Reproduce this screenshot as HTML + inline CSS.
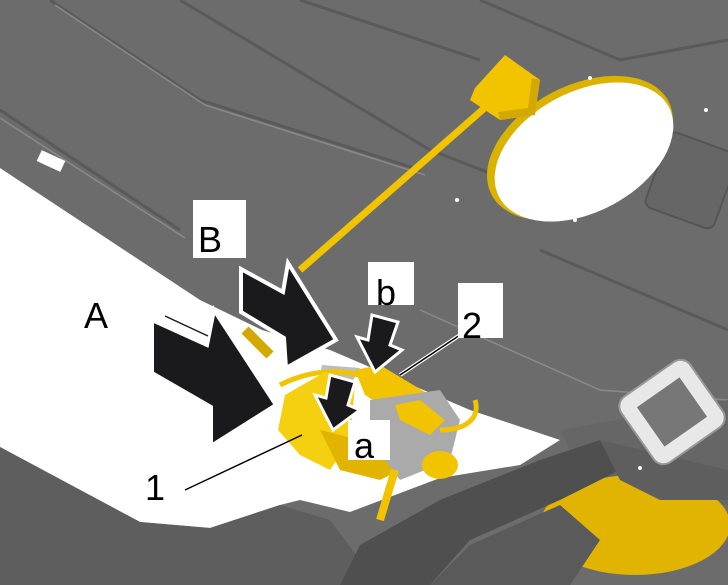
<!DOCTYPE html>
<html><head><meta charset="utf-8"><style>
html,body{margin:0;padding:0;background:#fff;width:728px;height:585px;overflow:hidden}
svg{display:block}
text{font-family:"Liberation Sans",sans-serif;fill:#000}
</style></head><body>
<svg width="728" height="585" viewBox="0 0 728 585" xmlns="http://www.w3.org/2000/svg">
<rect width="728" height="585" fill="#6c6c6c"/>
<g stroke="#5a5a5a" stroke-width="3" fill="none">
<path d="M0,110 L180,230"/>
<path d="M50,0 L200,100 L420,170"/>
<path d="M180,0 L430,150 L560,200"/>
<path d="M300,0 L480,60"/>
<path d="M480,0 L620,60 L728,40"/>
<path d="M540,250 L728,330"/>
</g>
<g stroke="#8a8a8a" stroke-width="1.5" fill="none">
<path d="M55,5 L205,105 L425,175"/>
<path d="M0,118 L185,238"/>
<path d="M420,310 L600,390 L728,400"/>
</g>
<rect x="655" y="140" width="73" height="80" rx="8" fill="#666" stroke="#555" stroke-width="2" transform="rotate(20 690 180)"/>
<polygon fill="#fff" points="0,168 200,300 262,330 330,350 400,380 470,410 560,440 520,465 440,478 395,495 350,512 300,500 280,505 210,528 140,522 0,447"/>
<polygon fill="#bdbdbd" points="322,365 360,368 345,395 318,385"/>
<polygon fill="#5e5e5e" points="0,447 140,522 210,528 280,505 330,520 360,560 380,585 0,585"/>
<polygon fill="#666" points="560,430 728,400 728,505 640,500 580,470"/>
<ellipse cx="635" cy="525" rx="95" ry="50" fill="#e0b400"/>
<polygon fill="#4f4f4f" points="340,585 360,545 440,500 540,460 600,440 620,470 560,500 470,540 430,585"/>
<polygon fill="#5a5a5a" points="430,585 470,545 560,505 600,540 570,585"/>
<polygon fill="#5e5e5e" points="600,440 728,470 728,500 660,500 620,480"/>
<g transform="rotate(-35 672 412)">
<rect x="630" y="372" width="84" height="80" rx="12" fill="#e8e8e8" stroke="#999" stroke-width="2"/>
<rect x="646" y="388" width="52" height="48" fill="#777"/>
</g>
<ellipse cx="580" cy="148" rx="100" ry="62" transform="rotate(-28 580 148)" fill="#d9b300"/>
<ellipse cx="584" cy="152" rx="96" ry="60" transform="rotate(-28 584 152)" fill="#fff"/>
<g fill="#fff"><circle cx="590" cy="78" r="2"/><circle cx="706" cy="110" r="2"/><circle cx="457" cy="200" r="2"/><circle cx="575" cy="220" r="2"/><circle cx="640" cy="468" r="2"/></g>
<rect x="38" y="155" width="26" height="12" fill="#fff" transform="rotate(25 51 161)"/>
<path d="M488,105 L300,270" stroke="#f2c400" stroke-width="7" fill="none"/>
<polygon fill="#f2c400" points="475,88 505,55 540,80 535,115 500,120 470,100"/>
<polygon fill="#d3a800" points="500,120 535,115 540,80 532,78 528,108 498,112"/>
<path d="M280,385 C320,365 360,370 380,385" stroke="#f2c400" stroke-width="5" fill="none"/>
<polygon fill="#f5d010" points="285,395 325,372 355,385 350,440 330,470 300,455 278,430"/>
<polygon fill="#e0b400" points="320,430 360,440 395,450 400,470 380,480 340,470"/>
<polygon fill="#f2c400" points="355,370 380,365 430,395 440,420 420,430 365,395"/>
<polygon fill="#aaaaaa" points="370,400 440,390 460,420 450,460 400,480 370,440"/>
<polygon fill="#f2c400" points="395,405 420,400 445,420 430,435 400,420"/>
<ellipse cx="440" cy="465" rx="18" ry="14" fill="#f2c400"/>
<path d="M440,430 C470,430 480,415 475,400" stroke="#f2c400" stroke-width="5" fill="none"/>
<path d="M395,470 L380,520" stroke="#f2c400" stroke-width="8" fill="none"/>
<path d="M245,330 L270,355" stroke="#d3a800" stroke-width="10" fill="none"/>
<polygon fill="#1a1a1c" stroke="#fff" stroke-width="4" points="152,320 207,345 214,310 276,405 211,446 211,407 152,373"/>
<line x1="165" y1="316" x2="208" y2="336" stroke="#1a1a1c" stroke-width="1.5"/>
<polygon fill="#1a1a1c" stroke="#fff" stroke-width="4" points="241,269 283,292 288,263 336,340 286,368 284,338 241,312"/>
<polygon fill="#1a1a1c" stroke="#fff" stroke-width="3" points="372,315 398,322 390,345 402,350 375,372 357,337 368,340"/>
<polygon fill="#1a1a1c" stroke="#fff" stroke-width="3" points="330,375 355,382 348,405 360,410 333,430 315,395 326,398"/>
<line x1="185" y1="490" x2="302" y2="435" stroke="#000" stroke-width="1.5"/>
<line x1="400" y1="375" x2="460" y2="335" stroke="#fff" stroke-width="4"/>
<line x1="400" y1="375" x2="460" y2="335" stroke="#000" stroke-width="1.5"/>
<rect x="193" y="200" width="53" height="58" fill="#fff"/>
<text x="198" y="252" font-size="36">B</text>
<rect x="368" y="262" width="46" height="43" fill="#fff"/>
<text x="376" y="305" font-size="36">b</text>
<rect x="458" y="283" width="45" height="55" fill="#fff"/>
<text x="462" y="338" font-size="36">2</text>
<rect x="348" y="420" width="42" height="40" fill="#fff"/>
<text x="354" y="458" font-size="36">a</text>
<text x="84" y="328" font-size="36">A</text>
<text x="145" y="500" font-size="36">1</text>
</svg>
</body></html>
